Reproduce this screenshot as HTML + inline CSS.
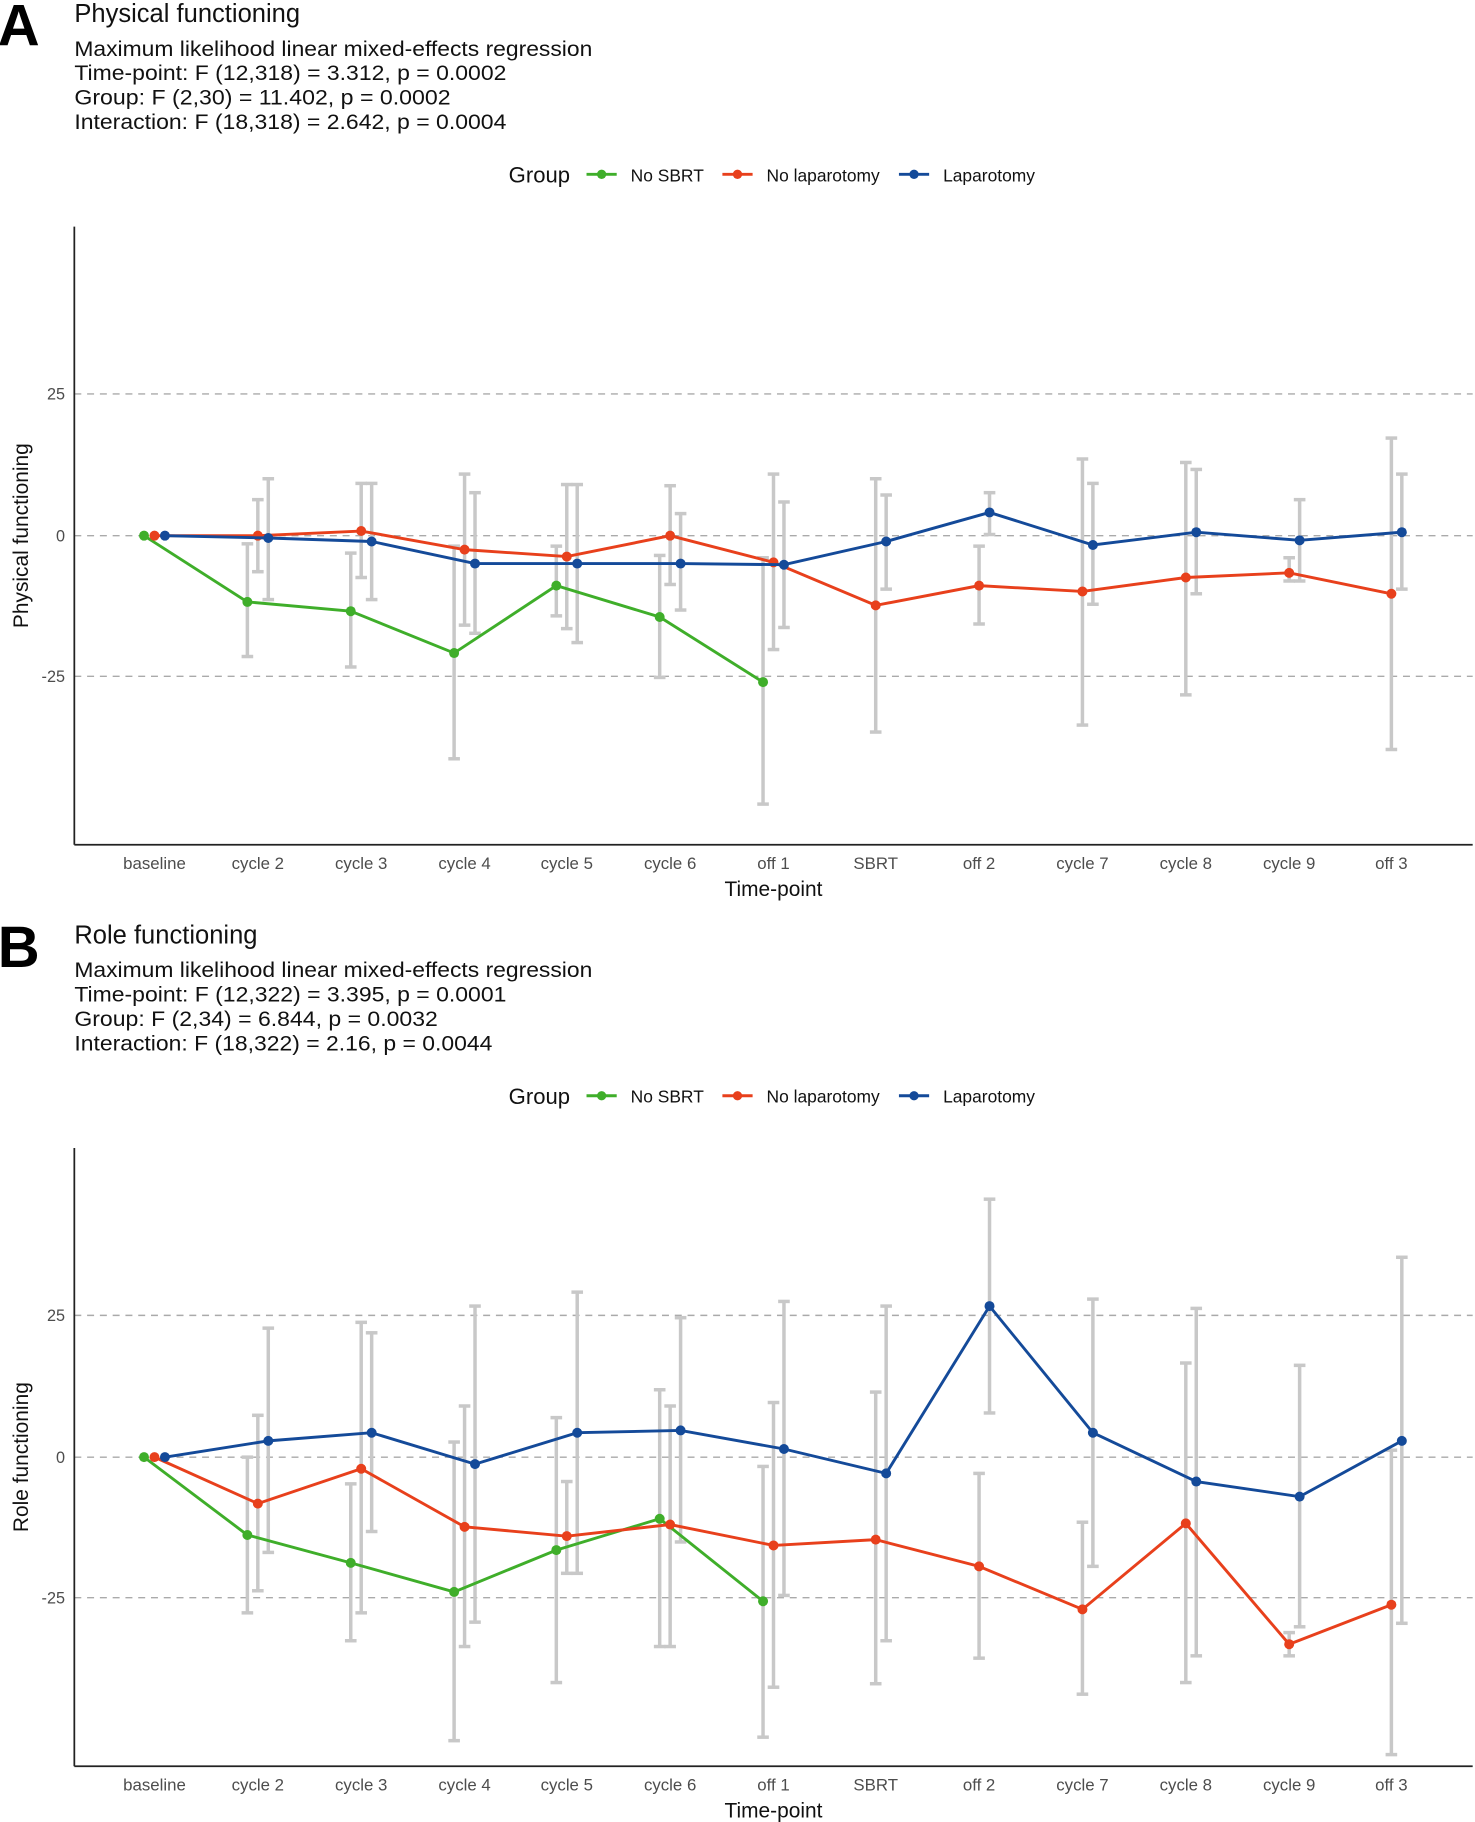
<!DOCTYPE html>
<html><head><meta charset="utf-8"><style>
html,body{margin:0;padding:0;background:#fff;}
svg{display:block;font-family:"Liberation Sans",Arial,sans-serif;}
</style></head><body>
<svg id="s" width="1475" height="1822" viewBox="0 0 1270 1568" preserveAspectRatio="none" xmlns="http://www.w3.org/2000/svg"></svg>
<script>
const s=document.getElementById('s');
let h='';
const G='#3fae2a',R='#e8401c',B='#144a99',E='#c8c8c8';
const X=[133,222,311,400,488,577,666,754,843,932,1021,1110,1198];
const labs=['baseline','cycle 2','cycle 3','cycle 4','cycle 5','cycle 6','off 1','SBRT','off 2','cycle 7','cycle 8','cycle 9','off 3'];
function panel(off,letter,title,lines,ends,ylab,data){
 h+=`<text x="-2" y="${off+39}" font-size="50" font-weight="bold" fill="#000">${letter}</text>`;
 h+=`<text x="64" y="${off+19}" font-size="22" fill="#111">${title}</text>`;
 lines.forEach((l,i)=>h+=`<text x="64" y="${off+48+i*21}" font-size="18" fill="#111" textLength="${ends[i]-64}" lengthAdjust="spacingAndGlyphs">${l}</text>`);
 const ly=off+150;
 h+=`<text x="438" y="${ly+7}" font-size="19" fill="#111">Group</text>`;
 [[505,G,'No SBRT'],[622,R,'No laparotomy'],[774,B,'Laparotomy']].forEach(([x,c,t])=>{
  h+=`<line x1="${x}" y1="${ly}" x2="${x+26}" y2="${ly}" stroke="${c}" stroke-width="2.5"/><circle cx="${x+13}" cy="${ly}" r="4" fill="${c}"/><text x="${x+38}" y="${ly+6}" font-size="15" fill="#111">${t}</text>`;
 });
 const y0=off+461,yp=off+339,ym=off+582;
 [yp,y0,ym].forEach(y=>h+=`<line x1="64" y1="${y}" x2="1268" y2="${y}" stroke="#aaa" stroke-width="1.2" stroke-dasharray="6,5"/>`);
 h+=`<line x1="64" y1="${off+195}" x2="64" y2="${off+727}" stroke="#222" stroke-width="1.5"/><line x1="64" y1="${off+727}" x2="1268" y2="${off+727}" stroke="#222" stroke-width="1.5"/>`;
 [[yp,'25'],[y0,'0'],[ym,'-25']].forEach(([y,t])=>h+=`<text x="56" y="${y+5}" font-size="14" fill="#4d4d4d" text-anchor="end">${t}</text>`);
 X.forEach((x,i)=>h+=`<text x="${x}" y="${off+748}" font-size="14.5" fill="#4d4d4d" text-anchor="middle">${labs[i]}</text>`);
 h+=`<text x="666" y="${off+771}" font-size="18" fill="#111" text-anchor="middle">Time-point</text>`;
 h+=`<text transform="translate(24,${off+461}) rotate(-90)" font-size="18" fill="#111" text-anchor="middle">${ylab}</text>`;
 const dx={g:-9,r:0,b:9},col={g:G,r:R,b:B};
 for(const k of ['g','r','b']) data[k].forEach((p,i)=>{ if(!p||!p[1])return; const x=X[i]+dx[k];
  h+=`<g stroke="${E}" stroke-width="3"><line x1="${x}" y1="${off+p[1]}" x2="${x}" y2="${off+p[2]}"/><line x1="${x-5}" y1="${off+p[1]}" x2="${x+5}" y2="${off+p[1]}"/><line x1="${x-5}" y1="${off+p[2]}" x2="${x+5}" y2="${off+p[2]}"/></g>`;});
 for(const k of ['g','r','b']){ const pts=data[k].map((p,i)=>p?[X[i]+dx[k],off+p[0]]:null).filter(Boolean);
  h+=`<polyline points="${pts.map(p=>p.join(',')).join(' ')}" fill="none" stroke="${col[k]}" stroke-width="2.5"/>`;
  pts.forEach(p=>h+=`<circle cx="${p[0]}" cy="${p[1]}" r="4.3" fill="${col[k]}"/>`);}
}
panel(0,'A','Physical functioning',['Maximum likelihood linear mixed-effects regression','Time-point: F (12,318) = 3.312, p = 0.0002','Group: F (2,30) = 11.402, p = 0.0002','Interaction: F (18,318) = 2.642, p = 0.0004'],[510,436,388,436],'Physical functioning',{
 g:[[461],[518,468,565],[526,476,574],[562,470,653],[504,470,530],[531,478,583],[587,480,692]],
 r:[[461],[461,430,492],[457,416,497],[473,408,538],[479,417,541],[461,418,503],[484,408,559],[521,412,630],[504,470,537],[509,395,624],[497,398,598],[493,480,500],[511,377,645]],
 b:[[461],[463,412,516],[466,416,516],[485,424,545],[485,417,553],[485,442,525],[486,432,540],[466,426,507],[441,424,460],[469,416,520],[458,404,511],[465,430,500],[458,408,507]]});
panel(793,'B','Role functioning',['Maximum likelihood linear mixed-effects regression','Time-point: F (12,322) = 3.395, p = 0.0001','Group: F (2,34) = 6.844, p = 0.0032','Interaction: F (18,322) = 2.16, p = 0.0044'],[510,436,377,424],'Role functioning',{
 g:[[461],[528,461,595],[552,484,619],[577,448,705],[541,427,655],[514,403,624],[585,469,702]],
 r:[[461],[501,425,576],[471,345,595],[521,417,624],[529,482,561],[519,417,624],[537,414,659],[532,405,656],[555,475,634],[592,517,665],[518,380,655],[622,612,632],[588,455,717]],
 b:[[461],[447,350,543],[440,354,525],[467,331,603],[440,319,561],[438,341,534],[454,327,580],[475,331,619],[331,239,423],[440,325,555],[482,333,632],[495,382,607],[447,289,604]]});
s.innerHTML=h;
</script>
</body></html>
